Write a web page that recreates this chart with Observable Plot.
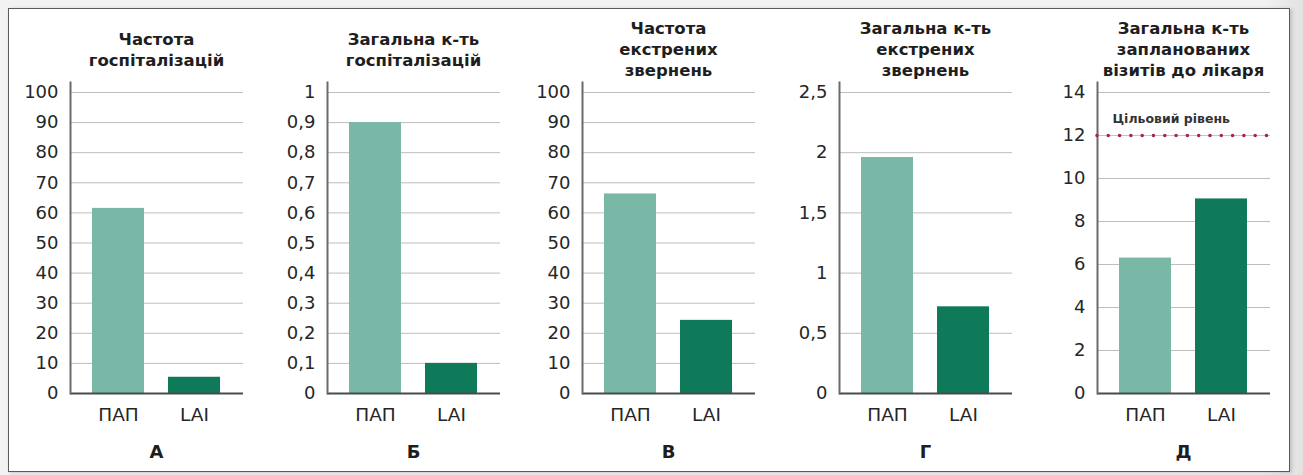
<!DOCTYPE html>
<html>
<head>
<meta charset="utf-8">
<script src="https://cdn.jsdelivr.net/npm/d3@7"></script>
<script src="https://cdn.jsdelivr.net/npm/@observablehq/plot@0.6"></script>
<style>
  html, body { margin: 0; padding: 0; }
  body { background: linear-gradient(to right, #f2f2f2 0%, #f2f2f2 97%, #e2e2e2 100%); width: 1303px; height: 475px; overflow: hidden; }
  #wrap { position: relative; width: 1303px; height: 475px; }
  #box { position: absolute; left: 8px; top: 8px; width: 1280px; height: 462px; background: #fff; border: 1.5px solid #5a5a5a; box-shadow: 2px 1px 4px rgba(0,0,0,0.18); }
  .panel { position: absolute; }
  .title { position: absolute; width: 240px; text-align: center; font-family: "DejaVu Sans", sans-serif; font-weight: bold; font-size: 16.5px; line-height: 21px; color: #1e1e1e; }
  .letter { position: absolute; width: 40px; text-align: center; font-family: "DejaVu Sans", sans-serif; font-weight: bold; font-size: 18px; line-height: 20px; color: #1e1e1e; }
</style>
</head>
<body>
<div id="wrap"><div id="box"></div></div>
<script>
// ---- data ----
const groups = ["ПАП", "LAI"];
const titles = [
  ["Частота", "госпіталізацій"],
  ["Загальна к-ть", "госпіталізацій"],
  ["Частота", "екстрених", "звернень"],
  ["Загальна к-ть", "екстрених", "звернень"],
  ["Загальна к-ть", "запланованих", "візитів до лікаря"]
];
const letters = ["А", "Б", "В", "Г", "Д"];
const papValues = [61.5, 0.9, 66.3, 1.96, 6.3];
const laiValues = [5.4, 0.1, 24.3, 0.72, 9.05];
const yTicks = [
  [0, 10, 20, 30, 40, 50, 60, 70, 80, 90, 100],
  [0, 0.1, 0.2, 0.3, 0.4, 0.5, 0.6, 0.7, 0.8, 0.9, 1],
  [0, 10, 20, 30, 40, 50, 60, 70, 80, 90, 100],
  [0, 0.5, 1, 1.5, 2, 2.5],
  [0, 2, 4, 6, 8, 10, 12, 14]
];
const targetLevel = 12;
const targetLabel = "Цільовий рівень";
const targetPanel = 4;

// ---- layout / style ----
const colors = ["#79b7a7", "#0e7a59"];
const axisLeft = [70, 327, 582, 839, 1097];
const plotW = 173;
const mLeft = 62, mRight = 2, mTop = 2, mBottom = 40;
const svgTop = 80;
const frameBottom = 393;

const wrap = document.getElementById("wrap");
const fmt = d => String(d).replace(".", ",");

titles.forEach((lines, i) => {
  const rows = groups.map((g, j) => ({group: g, value: [papValues, laiValues][j][i]}));
  const ticks = yTicks[i];
  const marks = [
    Plot.ruleY(ticks.slice(1), {stroke: "#bdbdbd", strokeWidth: 1}),
    Plot.barY(rows, {x: "group", y: "value", fill: "group"}),
    Plot.ruleY([0], {stroke: "#4a4a4a", strokeWidth: 2}),
    Plot.frame({anchor: "left", stroke: "#6a6a6a", strokeWidth: 2}),
    Plot.axisY({ticks, tickSize: 0, tickPadding: 12, tickFormat: fmt, fontSize: 18, label: null}),
    Plot.axisX({tickSize: 0, tickPadding: 14, fontSize: 18.5, label: null})
  ];
  if (i === targetPanel) {
    marks.push(
      Plot.ruleY([targetLevel], {stroke: "#e6b3c3", strokeWidth: 1}),
      Plot.ruleY([targetLevel], {stroke: "#a3264f", strokeWidth: 3.6, strokeLinecap: "round", strokeDasharray: "0 11.3"}),
      Plot.text([{label: targetLabel, value: targetLevel}], {text: "label", y: "value", frameAnchor: "left", dx: 15, dy: -17, textAnchor: "start", fontSize: 12.5, fontWeight: "bold", fill: "#333"})
    );
  }
  const chart = Plot.plot({
    width: mLeft + plotW + mRight,
    height: frameBottom - svgTop + mBottom,
    marginLeft: mLeft, marginRight: mRight, marginTop: mTop, marginBottom: mBottom,
    x: {domain: groups, paddingInner: 0.31, paddingOuter: 0.28},
    y: {domain: [0, ticks[ticks.length - 1]], insetTop: 10},
    color: {domain: groups, range: colors},
    style: {fontFamily: "DejaVu Sans, sans-serif", background: "transparent", color: "#262626", overflow: "visible"},
    marks
  });
  const holder = document.createElement("div");
  holder.className = "panel";
  holder.style.left = (axisLeft[i] - mLeft) + "px";
  holder.style.top = svgTop + "px";
  holder.appendChild(chart);
  wrap.appendChild(holder);

  const t = document.createElement("div");
  t.className = "title";
  t.style.left = (axisLeft[i] + plotW / 2 - 120) + "px";
  t.style.top = (lines.length === 2 ? 29 : 18) + "px";
  t.innerHTML = lines.join("<br>");
  wrap.appendChild(t);

  const l = document.createElement("div");
  l.className = "letter";
  l.style.left = (axisLeft[i] + plotW / 2 - 20) + "px";
  l.style.top = "442px";
  l.textContent = letters[i];
  wrap.appendChild(l);
});
</script>
</body>
</html>
